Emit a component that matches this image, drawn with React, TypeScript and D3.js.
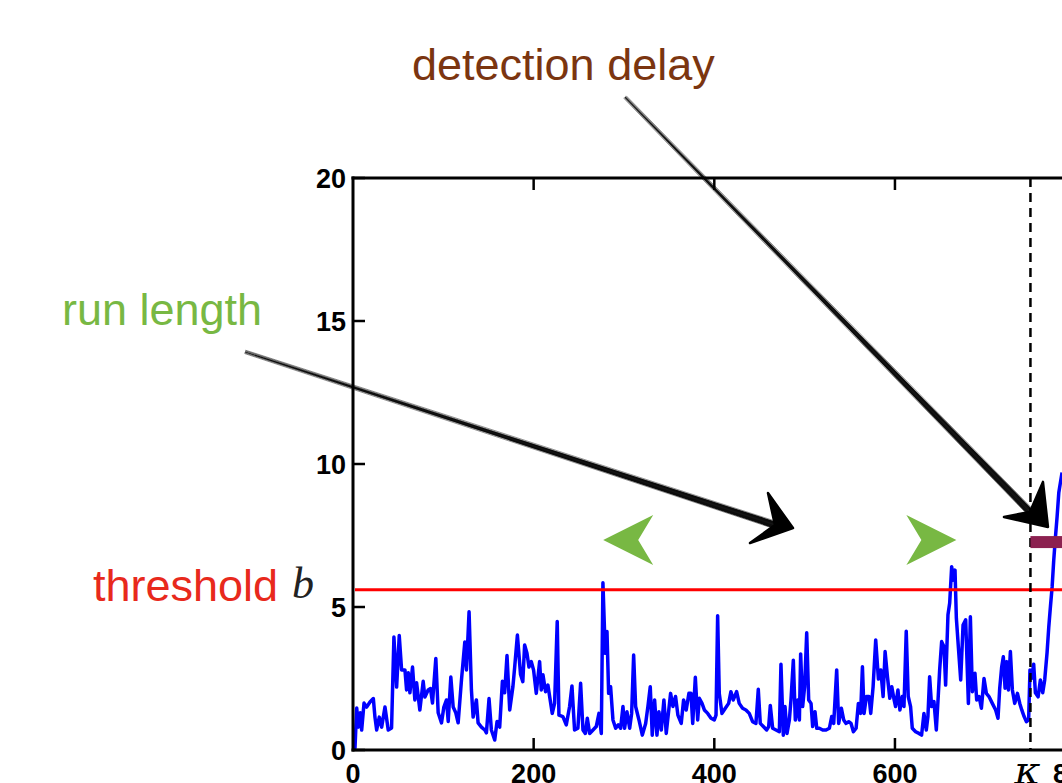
import React from 'react';
import * as d3 from 'd3';

const W = 1062;
const H = 783;

// detection statistic: [sample, value]
const statistic: [number, number][] = [
  [0, 0.05], [2.2, 0.07], [4.1, 1.47], [6, 0.8], [8, 1.3], [9.6, 0.7], [12.2, 1.64], [15.1, 1.5],
  [18.8, 1.68], [22.5, 1.8], [24.3, 1.15], [26.2, 0.7], [29.1, 1.15], [31.7, 0.8], [35.4, 1.5],
  [39, 0.7], [42.7, 0.77], [45.3, 3.95], [48.3, 2.2], [51.2, 4.0], [53.8, 2.8], [57.5, 2.8],
  [59.3, 2.1], [61.2, 2.7], [63, 2.0], [65.9, 2.9], [68.5, 1.75], [70.4, 2.35], [74, 1.4],
  [77.7, 2.4], [79.6, 1.85], [83.2, 2.1], [85.8, 2.15], [88, 1.64], [91.7, 3.2], [94.3, 1.3],
  [98, 0.95], [100.6, 1.5], [103.5, 1.75], [105.4, 1.0], [108.3, 2.55], [110.9, 1.5], [113.8, 1.3],
  [116.4, 0.95], [120.1, 2.45], [123.8, 3.78], [125.6, 2.8], [128.5, 4.83], [131.1, 2.1], [133, 1.15],
  [136.6, 1.75], [138.5, 0.95], [142.2, 0.8], [145.9, 0.7], [147.7, 0.6], [150.6, 1.8], [153.2, 0.7],
  [156.9, 0.35], [159.5, 1.0], [162.4, 0.8], [165.4, 2.4], [167.9, 2.0], [170.5, 3.3], [173.5, 1.4],
  [177, 2.2], [179, 2.9], [182, 4.02], [185.5, 2.64], [188, 2.39], [190, 3.67], [192.6, 3.38],
  [194.8, 2.9], [197.4, 3.09], [199.9, 2.8], [202.9, 1.98], [206.6, 3.09], [208.4, 2.1], [210.3, 2.63],
  [213.2, 2.04], [215.8, 2.27], [217.7, 1.87], [220.6, 1.28], [223.2, 1.63], [226.1, 4.49], [228, 1.22],
  [232.4, 1.17], [236.1, 0.88], [239.8, 1.52], [242.4, 2.24], [245.3, 0.7], [249, 0.76], [252, 2.33],
  [254.6, 0.7], [257.2, 0.58], [259.4, 1.11], [262, 0.58], [265.7, 0.7], [269.3, 0.82], [272.3, 1.28],
  [274.9, 0.58], [276.7, 5.85], [279.3, 3.38], [281.2, 4.14], [283, 1.98], [285.2, 2.21], [287.8, 1.05],
  [290.8, 0.76], [293.7, 0.88], [296.3, 0.76], [298.9, 1.52], [300.7, 0.76], [303.3, 1.34], [306.3, 0.76],
  [308.5, 1.28], [310.7, 3.32], [312.9, 1.52], [316.6, 1.05], [320.3, 0.52], [324, 0.93], [326.5, 1.52],
  [329.1, 2.21], [331.3, 0.52], [333.9, 1.75], [336.5, 0.52], [338.7, 1.34], [341.3, 0.7], [344.2, 1.75],
  [346.8, 0.58], [349.4, 1.34], [351.6, 1.98], [354.2, 1.52], [357.1, 1.87], [359.7, 1.22], [363.4, 0.93],
  [366, 1.75], [368.9, 1.4], [371.9, 1.98], [374.2, 1.98], [376.1, 0.93], [379, 2.54], [381.6, 1.05],
  [383.4, 1.81], [386.4, 1.63], [389, 1.4], [392.7, 1.28], [396.4, 1.11], [400, 1.05], [401.9, 1.22],
  [403.7, 4.69], [405.5, 1.98], [408.5, 1.28], [412.2, 1.46], [415.9, 1.63], [418.4, 2.04], [421, 1.75],
  [424.7, 2.04], [427.6, 1.63], [431.3, 1.46], [435, 1.4], [438.7, 1.28], [442.4, 0.99], [446.1, 0.93],
  [448.7, 2.12], [450.9, 0.93], [454.3, 0.82], [458, 0.7], [460.2, 0.82], [462, 1.56], [464.6, 0.76],
  [468.3, 0.7], [472, 0.64], [473.8, 3.0], [476.4, 0.52], [478.3, 1.52], [480.5, 0.58], [483.1, 1.05],
  [484.9, 1.75], [487.5, 3.14], [489.7, 1.05], [492.3, 1.75], [494.2, 1.05], [495.6, 3.36], [497.8, 1.52],
  [500, 2.21], [502.3, 4.1], [504.5, 1.75], [507.1, 1.63], [508.9, 0.82], [511.5, 1.34], [513.4, 0.76],
  [516.3, 0.76], [520, 0.7], [523.7, 0.7], [527.4, 0.76], [530, 1.17], [532.2, 0.93], [535.5, 2.8],
  [537.7, 0.93], [540.7, 1.46], [543.3, 1.05], [545.9, 0.93], [548.8, 0.99], [551.4, 0.93], [554, 0.64],
  [557, 0.76], [559.5, 1.63], [562, 1.28], [564, 2.91], [565.8, 1.28], [568.4, 1.87], [571.3, 1.87],
  [573.2, 1.28], [575.8, 2.21], [578.7, 3.85], [581.7, 2.48], [584.3, 2.8], [586.9, 1.87], [589.1, 3.44],
  [591.7, 2.56], [594.3, 1.81], [596.5, 2.21], [599.1, 1.75], [600.7, 1.52], [603.3, 2.1], [605.5, 1.4],
  [608.1, 1.87], [610, 1.52], [612.5, 4.15], [614.7, 1.87], [617.3, 1.52], [619.2, 0.76], [622.9, 0.64],
  [626.6, 0.58], [629.5, 0.52], [632.1, 1.28], [634.7, 0.7], [636.5, 1.17], [638.4, 2.56], [640.6, 1.52],
  [643.2, 1.69], [645.8, 0.7], [648, 1.92], [649.5, 2.8], [651.7, 3.79], [654.3, 3.61], [656.1, 2.27],
  [658.7, 4.73], [660.6, 5.14], [662.8, 6.41], [664.6, 5.94], [666.5, 6.29], [668, 4.6], [670.2, 3.61],
  [672.8, 2.45], [675.4, 4.37], [678.3, 4.55], [681.3, 1.63], [683.5, 4.66], [685.7, 2.04], [688.6, 2.68],
  [690.5, 1.75], [693.1, 1.87], [695.7, 1.46], [698.6, 2.5], [701.2, 1.98], [704.1, 1.87], [707.8, 1.63],
  [711.5, 1.4], [714.1, 1.11], [716, 2.16], [718.2, 2.91], [720, 3.26], [721.9, 2.16], [723.8, 3.09],
  [725.6, 2.1], [727.8, 3.44], [730, 2.1], [732.6, 1.63], [735.6, 1.98], [738.2, 1.63], [740.4, 1.4],
  [743, 1.17], [745.6, 0.99], [748, 1.05], [749.5, 2.8], [751, 2.5], [753.6, 3.0], [755.5, 2.0],
  [758.5, 1.86], [761, 2.45], [763.6, 2.0], [765.8, 2.45], [768.4, 3.4], [770.3, 4.3], [772.1, 5.0],
  [774, 5.7], [775.8, 6.64], [777.7, 7.45], [779.5, 8.15], [781.4, 9.0], [785, 9.7],
];

const threshold = 5.6;
const changePoint = 750;
const alarms = [277, 668];
const delayLevel = 7.27;
const xTicks = [0, 200, 400, 600, 800];
const yTicks = [0, 5, 10, 15, 20];

const sans = '"Liberation Sans", Arial, Helvetica, sans-serif';
const serif = '"Liberation Serif", "DejaVu Serif", serif';

type Pt = [number, number];

function SketchArrow({ from, tip, barb1, barb2, notch }: { from: Pt; tip: Pt; barb1: Pt; barb2: Pt; notch: Pt }) {
  const n0: Pt = [tip[0] + notch[0], tip[1] + notch[1]];
  const dx = n0[0] - from[0];
  const dy = n0[1] - from[1];
  const len = Math.hypot(dx, dy);
  const nx = -dy / len;
  const ny = dx / len;
  const shaft = [
    [from[0] + nx * 0.5, from[1] + ny * 0.5],
    [n0[0] + nx * 3.5, n0[1] + ny * 3.5],
    [n0[0] - nx * 3.5, n0[1] - ny * 3.5],
    [from[0] - nx * 0.5, from[1] - ny * 0.5],
  ];
  // a few loose strands to give the hand-drawn look
  const strands = [-3, -2, -1.2, 0.8, 1.7, 2.8];
  const head = [
    [tip[0] + barb1[0], tip[1] + barb1[1]],
    tip,
    [tip[0] + barb2[0], tip[1] + barb2[1]],
    n0,
  ];
  return (
    <g>
      <polygon points={shaft.map((p) => p.join(',')).join(' ')} fill="#000" opacity={0.92} />
      {strands.map((o, i) => (
        <line
          key={i}
          x1={from[0] + nx * o * 0.6}
          y1={from[1] + ny * o * 0.6}
          x2={n0[0] + nx * o * 1.3}
          y2={n0[1] + ny * o * 1.3}
          stroke="#000"
          strokeWidth={0.6}
          opacity={0.7}
        />
      ))}
      <polygon
        points={head.map((p) => p.join(',')).join(' ')}
        fill="#000"
        stroke="#000"
        strokeWidth={2.5}
        strokeLinejoin="round"
      />
    </g>
  );
}

function Chevron({ cx, cy, dir, color }: { cx: number; cy: number; dir: number; color: string }) {
  // tip at (cx, cy), pointing in dir (+1 right, -1 left)
  const pts = [
    [cx, cy],
    [cx - dir * 50, cy - 25],
    [cx - dir * 35, cy],
    [cx - dir * 50, cy + 25],
  ];
  return <polygon points={pts.map((p) => p.join(',')).join(' ')} fill={color} />;
}

export default function App() {
  const x = d3.scaleLinear().domain([0, 800]).range([353, 1075.6]);
  const y = d3.scaleLinear().domain([0, 20]).range([750, 178]);

  const line = d3
    .line<Pt>()
    .x((d) => x(d[0]))
    .y((d) => y(d[1]));

  const x0 = x(0);
  const right = W + 20;

  return (
    <svg
      width={W}
      height={H}
      style={{ position: 'absolute', left: 0, top: 0, background: '#fff' }}
    >
      <rect width={W} height={H} fill="#fff" />

      {/* statistic */}
      <path d={line(statistic) || ''} fill="none" stroke="#0000ff" strokeWidth={3.5} strokeLinejoin="round" />

      {/* threshold */}
      <line x1={x0 + 2} x2={right} y1={y(threshold)} y2={y(threshold)} stroke="#ff0000" strokeWidth={3} />

      {/* change point */}
      <line
        x1={x(changePoint)}
        x2={x(changePoint)}
        y1={y(20)}
        y2={y(0)}
        stroke="#000"
        strokeWidth={2.5}
        strokeDasharray="9,6"
      />

      {/* detection delay bar */}
      <rect
        x={x(changePoint)}
        y={y(delayLevel) - 6}
        width={x(860) - x(changePoint)}
        height={12}
        fill="#8c2150"
      />

      {/* frame */}
      <line x1={x0} x2={x0} y1={y(20) - 1.5} y2={y(0) + 1.5} stroke="#000" strokeWidth={3} />
      <line x1={x0 - 1.5} x2={right} y1={y(0)} y2={y(0)} stroke="#000" strokeWidth={3} />
      <line x1={x0 - 1.5} x2={right} y1={y(20)} y2={y(20)} stroke="#000" strokeWidth={3} />

      {yTicks.map((t) => (
        <g key={'y' + t}>
          <line x1={x0} x2={x0 + 12} y1={y(t)} y2={y(t)} stroke="#000" strokeWidth={2.5} />
          <text
            x={x0 - 7}
            y={y(t) + 10}
            textAnchor="end"
            fontFamily={sans}
            fontWeight="bold"
            fontSize={27}
            fill="#000"
          >
            {t}
          </text>
        </g>
      ))}

      {xTicks.map((t) => (
        <g key={'x' + t}>
          {t > 0 && (
            <>
              <line x1={x(t)} x2={x(t)} y1={y(0)} y2={y(0) - 12} stroke="#000" strokeWidth={2.5} />
              <line x1={x(t)} x2={x(t)} y1={y(20)} y2={y(20) + 12} stroke="#000" strokeWidth={2.5} />
            </>
          )}
          <text
            x={x(t)}
            y={783}
            textAnchor="middle"
            fontFamily={sans}
            fontWeight="bold"
            fontSize={27}
            fill="#000"
          >
            {t}
          </text>
        </g>
      ))}
      <text
        x={x(changePoint) - 3}
        y={784}
        textAnchor="middle"
        fontFamily={'"DejaVu Serif", serif'}
        fontStyle="italic"
        fontSize={40}
        fill="#000"
      >
        κ
      </text>

      {/* run length markers */}
      <Chevron cx={x(alarms[0])} cy={y(7.34)} dir={-1} color="#78b843" />
      <Chevron cx={x(alarms[1])} cy={y(7.34)} dir={1} color="#78b843" />

      {/* annotations */}
      <SketchArrow
        from={[x(-119.6), y(13.92)]}
        tip={[x(487.1), y(7.76)]}
        barb1={[-25, -35]}
        barb2={[-43, 15]}
        notch={[-18, -3]}
      />
      <SketchArrow
        from={[x(301.1), y(22.83)]}
        tip={[x(769.4), y(7.8)]}
        barb1={[-5, -45]}
        barb2={[-44, -10]}
        notch={[-18, -15]}
      />

      <text x={412} y={80} fontFamily={sans} fontSize={45} fill="#7b3510">
        detection delay
      </text>
      <text x={62} y={325} fontFamily={sans} fontSize={45} fill="#78b843">
        run length
      </text>
      <text x={93} y={601} fontFamily={sans} fontSize={45} fill="#e8291c">
        threshold
      </text>
      <text x={292} y={598} fontFamily={serif} fontStyle="italic" fontSize={44} fill="#222">
        b
      </text>
    </svg>
  );
}
